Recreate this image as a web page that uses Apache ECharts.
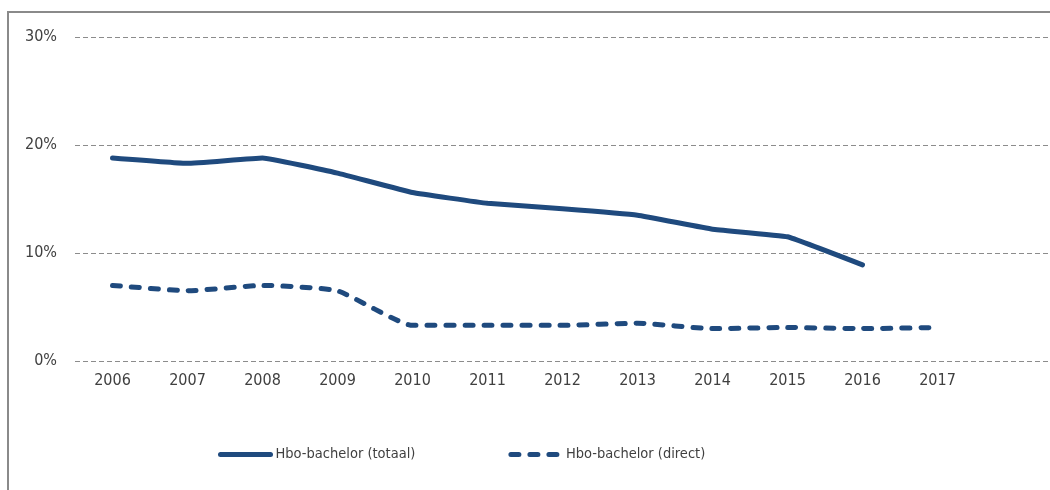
<!DOCTYPE html>
<html>
<head>
<meta charset="utf-8">
<script src="https://cdn.jsdelivr.net/npm/echarts@6/dist/echarts.min.js"></script>
<style>
  html, body { margin: 0; padding: 0; background: #fff; }
  #chart { width: 1050px; height: 490px; }
</style>
</head>
<body>
<div id="chart"></div>
<script>
// jaren (laatste categorie leeg, zoals in het origineel loopt het raster door)
const years = ['2006', '2007', '2008', '2009', '2010', '2011', '2012', '2013', '2014', '2015', '2016', '2017', ''];
// percentages
const totaal = [18.8, 18.3, 18.8, 17.4, 15.6, 14.6, 14.1, 13.5, 12.2, 11.5, 8.9, null, null];
const direct = [7.0, 6.5, 7.0, 6.5, 3.3, 3.3, 3.3, 3.5, 3.0, 3.1, 3.0, 3.1, null];
const yTicks = [0, 10, 20, 30];

const lineColor = '#1f4a7e';
const textColor = '#404040';
const fontFamily = '"DejaVu Sans Condensed", "DejaVu Sans", sans-serif';

const chart = echarts.init(document.getElementById('chart'));

chart.setOption({
  animation: false,
  textStyle: { fontFamily: fontFamily },
  graphic: [{
    type: 'rect',
    shape: { x: 8, y: 12, width: 1100, height: 600 },
    style: { fill: 'none', stroke: '#8a8a8a', lineWidth: 2 },
    silent: true
  }],
  grid: { left: 75, right: 0, top: 37, bottom: 129 },
  legend: {
    left: 213,
    top: 442,
    itemWidth: 50,
    itemHeight: 16,
    itemGap: 93,
    itemStyle: { opacity: 0 },
    lineStyle: { width: 5, cap: 'round' },
    textStyle: { color: textColor, fontSize: 14.5, fontFamily: fontFamily },
    data: ['Hbo-bachelor (totaal)', 'Hbo-bachelor (direct)']
  },
  xAxis: {
    type: 'category',
    data: years,
    boundaryGap: true,
    axisLine: { show: false },
    axisTick: { show: false },
    axisLabel: { color: textColor, fontSize: 16, margin: 12 }
  },
  yAxis: {
    type: 'value',
    min: yTicks[0],
    max: yTicks[yTicks.length - 1],
    interval: 10,
    axisLine: { show: false },
    axisTick: { show: false },
    axisLabel: { color: textColor, fontSize: 16, margin: 18, formatter: '{value}%' },
    splitLine: { lineStyle: { color: '#8c8c8c', width: 1, type: [5, 3] } }
  },
  series: [
    {
      name: 'Hbo-bachelor (totaal)',
      type: 'line',
      data: totaal,
      smooth: 0.08,
      symbol: 'none',
      itemStyle: { color: lineColor },
      lineStyle: { color: lineColor, width: 5, cap: 'round', join: 'round' }
    },
    {
      name: 'Hbo-bachelor (direct)',
      type: 'line',
      data: direct,
      smooth: 0.15,
      symbol: 'none',
      itemStyle: { color: lineColor },
      lineStyle: { color: lineColor, width: 5, type: [8, 11], cap: 'round', join: 'round' }
    }
  ]
});
</script>
</body>
</html>
